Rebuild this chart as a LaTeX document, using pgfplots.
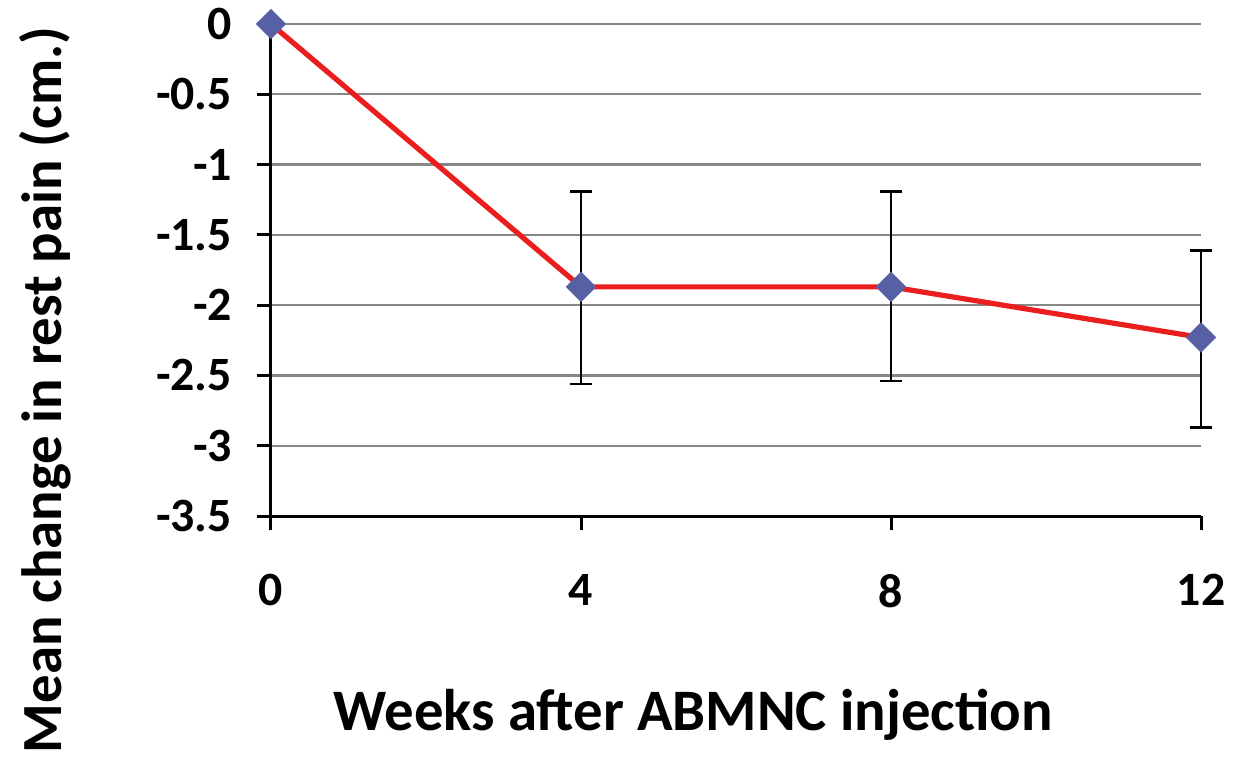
\documentclass[border=0pt]{standalone}
\usepackage{pgfplots}
\pgfplotsset{compat=1.18}
\usepackage{fontspec}
\setmainfont{Carlito}
\definecolor{mk}{RGB}{88,96,165}
\definecolor{ln}{RGB}{235,30,30}
\definecolor{gr}{RGB}{135,135,135}
\begin{document}
\begin{tikzpicture}
\begin{axis}[
  scale only axis,
  width=465bp, height=246bp,
  xmin=0, xmax=12, ymin=-3.5, ymax=0,
  clip=false,
  axis x line=bottom, axis y line=left,
  axis line style={line width=1.5bp, black, -},
  xtick={0,4,8,12},
  xticklabels={0,4,8,12},
  ytick={-3.5,-3,-2.5,-2,-1.5,-1,-0.5,0},
  yticklabels={-3.5,-3,-2.5,-2,-1.5,-1,-0.5,0},
  tick align=outside,
  major tick length=7bp,
  tick style={line width=1.5bp, black},
  ymajorgrids,
  major grid style={line width=1.1bp, gr},
  ticklabel style={font=\fontsize{24}{27}\selectfont\bfseries},
  yticklabel style={xshift=-9bp},
  xticklabel style={yshift=-18.5bp},
  xlabel={Weeks after ABMNC injection},
  ylabel={Mean change in rest pain (cm.)},
  xlabel style={font=\fontsize{29.5}{32}\selectfont\bfseries, at={(axis description cs:0.454,-0.404)}, anchor=center},
  ylabel style={font=\fontsize{28.5}{31}\selectfont\bfseries, at={(axis description cs:-0.243,0.256)}, anchor=center, rotate=0},
]
\addplot[ln, line width=2.6bp, mark=square*, mark size=5.3bp,
  mark options={fill=mk, draw=mk, line width=0.1bp, rotate=45},
  error bars/.cd, y dir=both, y explicit,
  error bar style={line width=1.3bp, black},
  error mark options={rotate=90, mark size=5.5bp, line width=1.3bp, black}]
coordinates {
  (0,0) +- (0,0)
  (4,-1.87) += (0,0.68) -= (0,0.69)
  (8,-1.87) += (0,0.68) -= (0,0.67)
  (12,-2.23) += (0,0.62) -= (0,0.64)
};
\end{axis}
\path[use as bounding box] ([shift={(-135.5bp,-127.5bp)}]current axis.south west) rectangle ++(622.5bp,385.5bp);
\end{tikzpicture}
\end{document}
